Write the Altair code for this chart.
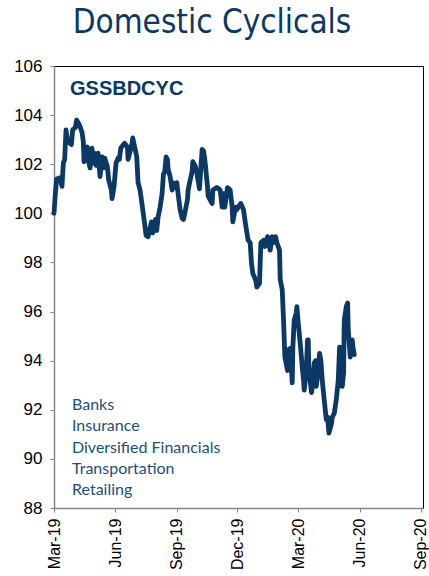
import altair as alt
import pandas as pd

TITLE = "Domestic Cyclicals"
TICKER = "GSSBDCYC"
SEGMENTS = ["Banks", "Insurance", "Diversified Financials", "Transportation", "Retailing"]
Y_TICKS = [88, 90, 92, 94, 96, 98, 100, 102, 104, 106]
X_TICKS = ["2019-03-01", "2019-06-01", "2019-09-01", "2019-12-01",
           "2020-03-01", "2020-06-01", "2020-09-01"]

DATES = [
    "2019-03-01", "2019-03-03", "2019-03-05", "2019-03-10", "2019-03-13", "2019-03-15",
    "2019-03-17", "2019-03-19", "2019-03-21", "2019-03-23", "2019-03-27", "2019-03-29",
    "2019-04-02", "2019-04-04", "2019-04-08", "2019-04-12", "2019-04-14", "2019-04-15",
    "2019-04-20", "2019-04-21", "2019-04-24", "2019-04-27", "2019-04-28", "2019-04-30",
    "2019-05-03", "2019-05-06", "2019-05-09", "2019-05-12", "2019-05-14", "2019-05-16",
    "2019-05-20", "2019-05-22", "2019-05-26", "2019-05-27", "2019-05-30", "2019-06-02",
    "2019-06-05", "2019-06-07", "2019-06-09", "2019-06-13", "2019-06-15", "2019-06-19",
    "2019-06-20", "2019-06-26", "2019-06-27", "2019-07-03", "2019-07-05", "2019-07-08",
    "2019-07-11", "2019-07-14", "2019-07-17", "2019-07-20", "2019-07-25", "2019-07-27",
    "2019-07-31", "2019-08-02", "2019-08-04", "2019-08-07", "2019-08-10", "2019-08-12",
    "2019-08-14", "2019-08-16", "2019-08-18", "2019-08-19", "2019-08-22", "2019-08-25",
    "2019-08-26", "2019-08-30", "2019-09-01", "2019-09-03", "2019-09-06", "2019-09-09",
    "2019-09-11", "2019-09-13", "2019-09-17", "2019-09-18", "2019-09-21", "2019-09-24",
    "2019-09-25", "2019-09-29", "2019-10-01", "2019-10-05", "2019-10-09", "2019-10-11",
    "2019-10-13", "2019-10-17", "2019-10-18", "2019-10-24", "2019-10-25", "2019-10-31",
    "2019-11-05", "2019-11-08", "2019-11-10", "2019-11-12", "2019-11-16", "2019-11-20",
    "2019-11-23", "2019-11-24", "2019-11-28", "2019-11-30", "2019-12-02", "2019-12-06",
    "2019-12-10", "2019-12-12", "2019-12-16", "2019-12-17", "2019-12-20", "2019-12-22",
    "2019-12-24", "2019-12-28", "2019-12-30", "2020-01-03", "2020-01-05", "2020-01-09",
    "2020-01-11", "2020-01-15", "2020-01-16", "2020-01-19", "2020-01-22", "2020-01-23",
    "2020-01-27", "2020-01-29", "2020-02-02", "2020-02-03", "2020-02-06", "2020-02-08",
    "2020-02-10", "2020-02-14", "2020-02-15", "2020-02-16", "2020-02-18", "2020-02-20",
    "2020-02-21", "2020-02-22", "2020-02-24", "2020-02-27", "2020-02-28", "2020-03-01",
    "2020-03-04", "2020-03-07", "2020-03-09", "2020-03-10", "2020-03-13", "2020-03-15",
    "2020-03-16", "2020-03-17", "2020-03-21", "2020-03-22", "2020-03-25", "2020-03-27",
    "2020-03-28", "2020-03-31", "2020-04-02", "2020-04-04", "2020-04-06", "2020-04-09",
    "2020-04-12", "2020-04-14", "2020-04-16", "2020-04-20", "2020-04-21", "2020-04-24",
    "2020-04-27", "2020-04-30", "2020-05-02", "2020-05-03", "2020-05-06", "2020-05-08",
    "2020-05-09", "2020-05-12", "2020-05-14", "2020-05-15", "2020-05-18", "2020-05-21",
    "2020-05-22", "2020-05-24",
]

VALUES = [
    100.0, 100.8, 101.4, 101.45, 101.1, 102.05,
    102.2, 103.4, 103.0, 102.9, 102.8, 103.4,
    103.5, 103.8, 103.6, 103.3, 102.9, 102.1,
    102.7, 102.2, 101.85, 102.65, 102.05, 102.45,
    101.95, 102.45, 101.5, 102.3, 101.85, 102.25,
    101.9, 101.35, 100.95, 100.6, 101.1, 102.05,
    102.25, 102.2, 102.65, 102.8, 102.85, 102.7,
    102.2, 102.85, 103.07, 102.3, 101.25, 100.95,
    100.35, 99.75, 99.1, 99.05, 99.65, 99.2,
    99.75, 99.3, 99.85, 100.25, 100.8, 101.6,
    101.7, 102.3, 102.2, 101.8, 101.5, 100.95,
    101.25, 101.05, 101.25, 100.8, 100.15, 99.8,
    99.75, 100.0, 100.55, 100.95, 101.35, 101.7,
    102.1, 101.9, 101.65, 101.0, 102.6, 102.55,
    102.2, 101.1, 100.7, 100.4, 100.95, 101.05,
    100.95, 100.25, 100.8, 100.25, 101.05, 100.95,
    100.25, 99.65, 100.25, 100.15, 100.25, 100.4,
    100.15, 99.75, 99.05, 98.9, 98.8, 97.95,
    97.55, 97.3, 97.0, 97.15, 98.8, 98.9,
    98.65, 99.05, 98.9, 98.5, 99.05, 98.8,
    99.05, 98.8, 98.5, 97.3, 96.9, 95.65,
    94.15, 93.6, 94.45, 94.05, 94.5, 93.6,
    93.1, 94.55, 95.65, 95.95, 96.2, 95.55,
    94.7, 93.75, 93.2, 92.8, 93.6, 94.85,
    94.85, 93.6, 92.7, 92.95, 93.9, 94.0,
    92.95, 93.6, 94.3, 94.0, 93.2, 92.4,
    91.6, 91.7, 91.05, 91.45, 91.7, 91.85,
    92.4, 93.2, 94.55, 93.75, 92.95, 93.5,
    95.65, 96.2, 96.35, 95.25, 94.15, 94.85,
    94.55, 94.25,
]

NAVY = "#0b3864"
TEXT_NAVY = "#1f4e79"

df = pd.DataFrame({"date": DATES, "value": VALUES})


def dt(s):
    return alt.DateTime(year=int(s[:4]), month=int(s[5:7]), date=int(s[8:10]), utc=True)


x_enc = alt.X(
    "date:T",
    scale=alt.Scale(type="utc", domain=[dt("2019-03-01"), dt("2020-09-04")]),
    axis=alt.Axis(
        title=None, values=[dt(s) for s in X_TICKS], format="%b-%y",
        labelAngle=-90, labelAlign="right", labelBaseline="middle",
        tickSize=4, labelPadding=6, labelFontSize=16,
    ),
)
y_enc = alt.Y(
    "value:Q",
    scale=alt.Scale(domain=[88, 106], nice=False, zero=False),
    axis=alt.Axis(title=None, values=Y_TICKS, tickSize=4, labelPadding=8, labelFontSize=17),
)

line = alt.Chart(df).mark_line(
    color=NAVY, strokeWidth=4.8, strokeJoin="round", strokeCap="round"
).encode(x=x_enc, y=y_enc)

title = alt.Chart(pd.DataFrame({"t": [TITLE]})).mark_text(
    font="DejaVu Sans Condensed, Roboto, sans-serif", fontSize=33, color=NAVY,
    align="center", baseline="alphabetic"
).encode(text="t:N", x=alt.value(158), y=alt.value(-33.5))

ticker = alt.Chart(pd.DataFrame({"t": [TICKER]})).mark_text(
    font="Liberation Sans", fontSize=20, fontWeight="bold", color=NAVY,
    align="left", baseline="alphabetic",
).encode(text="t:N", x=alt.value(16), y=alt.value(29))

segments = alt.Chart(pd.DataFrame({"t": [0]})).mark_text(
    font="Lato", fontSize=16, color=TEXT_NAVY, align="left", baseline="alphabetic",
    lineHeight=21.3,
).encode(text=alt.value(SEGMENTS), x=alt.value(18), y=alt.value(344))

chart = alt.layer(line, title, ticker, segments).properties(
    width=369, height=442,
    autosize=alt.AutoSizeParams(type="none"),
    padding={"left": 54, "top": 66, "right": 6, "bottom": 68},
).configure_view(
    stroke="black", strokeWidth=1
).configure_axis(
    grid=False, domainColor="#868686", tickColor="#868686", domainWidth=1.5,
    labelFont="Liberation Sans", labelColor="black",
)

chart.save("out.html", embed_options={"renderer": "svg", "actions": False})
